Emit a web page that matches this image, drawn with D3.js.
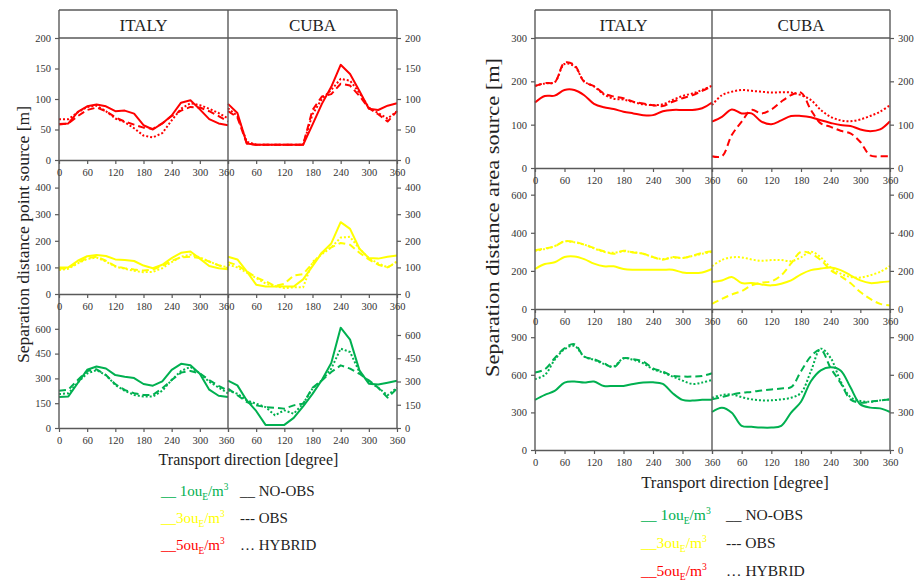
<!DOCTYPE html>
<html>
<head>
<meta charset="utf-8">
<script src="https://cdn.jsdelivr.net/npm/d3@7"></script>
<style>
  html, body { margin: 0; padding: 0; background: #fff; }
  svg { display: block; }
  svg text { font-family: "Liberation Serif", "Times New Roman", serif; }
</style>
</head>
<body>
<svg id="chart" width="918" height="580"></svg>
<script>
// Transport directions (degrees)
const angles = [0, 20, 40, 60, 80, 100, 120, 140, 160, 180, 200, 220, 240, 260, 280, 300, 320, 340, 360];
const xTicksItaly = [0, 60, 120, 180, 240, 300, 360];
const xTicksCuba = [0, 60, 120, 180, 240, 300, 360];

// Y tick labels
const ticksPoint5 = [0, 50, 100, 150, 200];
const ticksPoint3 = [0, 100, 200, 300, 400];
const ticksPoint1 = [0, 150, 300, 450, 600];
const ticksArea5 = [0, 100, 200, 300];
const ticksArea3 = [0, 200, 400, 600];
const ticksArea1 = [0, 300, 600, 900];

// Point source, 5 ouE/m3
const ptItaly5NoObs  = [59, 60, 79, 88, 91, 88, 80, 81, 76, 57, 50, 60, 73, 94, 98, 83, 67, 60, 57];
const ptItaly5Obs    = [58, 60, 72, 82, 86, 80, 70, 63, 58, 53, 51, 60, 72, 81, 87, 86, 80, 72, 63];
const ptItaly5Hybrid = [67, 67, 78, 87, 89, 80, 68, 62, 52, 40, 37, 44, 65, 84, 93, 90, 84, 77, 68];
const ptCuba5NoObs   = [92, 77, 27, 25, 25, 25, 25, 25, 25, 58, 92, 120, 156, 141, 113, 84, 82, 89, 93];
const ptCuba5Obs     = [80, 70, 27, 25, 25, 25, 25, 25, 25, 82, 104, 108, 125, 122, 105, 85, 75, 63, 80];
const ptCuba5Hybrid  = [85, 72, 30, 25, 25, 25, 25, 25, 25, 75, 100, 115, 133, 130, 110, 86, 77, 68, 80];

// Point source, 3 ouE/m3
const ptItaly3NoObs  = [100, 100, 125, 142, 147, 143, 130, 128, 124, 107, 97, 110, 135, 155, 160, 133, 105, 97, 93];
const ptItaly3Obs    = [95, 98, 118, 135, 140, 125, 105, 97, 92, 88, 92, 105, 125, 138, 140, 135, 122, 108, 97];
const ptItaly3Hybrid = [90, 95, 115, 132, 137, 122, 103, 95, 87, 82, 83, 97, 120, 140, 148, 138, 122, 108, 100];
const ptCuba3NoObs   = [140, 130, 85, 35, 28, 28, 28, 28, 55, 105, 155, 190, 270, 245, 170, 135, 133, 140, 145];
const ptCuba3Obs     = [120, 108, 85, 62, 48, 30, 38, 70, 75, 115, 155, 175, 192, 185, 155, 130, 110, 100, 120];
const ptCuba3Hybrid  = [110, 100, 80, 60, 40, 30, 22, 25, 25, 120, 150, 175, 212, 215, 170, 135, 115, 100, 122];

// Point source, 1 ouE/m3
const ptItaly1NoObs  = [187, 191, 272, 352, 372, 360, 320, 310, 302, 266, 256, 282, 352, 388, 380, 328, 232, 195, 187];
const ptItaly1Obs    = [225, 232, 290, 345, 355, 320, 265, 230, 210, 200, 200, 240, 290, 335, 345, 330, 290, 255, 225];
const ptItaly1Hybrid = [205, 210, 275, 330, 350, 320, 260, 225, 200, 190, 190, 225, 290, 345, 370, 330, 280, 245, 210];
const ptCuba1NoObs   = [305, 275, 178, 110, 20, 20, 20, 65, 140, 220, 310, 420, 647, 570, 372, 286, 280, 292, 305];
const ptCuba1Obs     = [254, 211, 168, 146, 135, 131, 125, 146, 157, 260, 307, 361, 404, 383, 350, 307, 260, 196, 254];
const ptCuba1Hybrid  = [243, 221, 178, 157, 135, 82, 114, 92, 157, 254, 307, 383, 512, 490, 361, 297, 260, 211, 260];

// Area source, 5 ouE/m3
const arItaly5NoObs  = [151, 166, 167, 180, 180, 168, 148, 140, 136, 130, 126, 122, 122, 131, 134, 134, 134, 138, 151];
const arItaly5Obs    = [189, 196, 198, 243, 238, 199, 189, 172, 165, 161, 153, 149, 145, 143, 153, 161, 168, 178, 189];
const arItaly5Hybrid = [190, 195, 198, 240, 235, 200, 188, 170, 160, 158, 152, 147, 145, 147, 157, 166, 172, 180, 190];
const arCuba5NoObs   = [107, 118, 135, 126, 126, 107, 101, 110, 120, 120, 117, 110, 104, 99, 97, 89, 85, 89, 108];
const arCuba5Obs     = [27, 27, 76, 107, 134, 126, 135, 153, 168, 174, 134, 103, 95, 86, 80, 60, 29, 27, 27];
const arCuba5Hybrid  = [145, 168, 176, 180, 178, 176, 174, 175, 174, 168, 157, 134, 118, 110, 108, 112, 120, 130, 145];

// Area source, 3 ouE/m3
const arItaly3NoObs  = [210, 236, 245, 273, 276, 262, 238, 224, 224, 210, 206, 206, 206, 206, 206, 192, 189, 192, 210];
const arItaly3Obs    = [308, 318, 329, 355, 352, 338, 320, 303, 290, 306, 297, 290, 273, 259, 273, 268, 280, 294, 303];
const arItaly3Hybrid = [305, 315, 330, 355, 350, 338, 318, 300, 295, 303, 298, 290, 272, 262, 270, 268, 278, 290, 300];
const arCuba3NoObs   = [142, 150, 168, 136, 136, 129, 124, 133, 150, 182, 204, 212, 218, 204, 177, 150, 136, 140, 145];
const arCuba3Obs     = [27, 53, 76, 94, 124, 138, 145, 177, 239, 300, 290, 257, 204, 172, 136, 89, 53, 27, 18];
const arCuba3Hybrid  = [225, 257, 271, 271, 260, 253, 257, 257, 251, 271, 301, 271, 218, 186, 168, 165, 177, 195, 225];

// Area source, 1 ouE/m3
const arItaly1NoObs  = [400, 440, 471, 538, 546, 538, 546, 511, 511, 511, 527, 538, 540, 527, 453, 400, 394, 400, 400];
const arItaly1Obs    = [618, 644, 732, 812, 844, 746, 724, 692, 660, 732, 724, 706, 652, 626, 591, 586, 586, 591, 612];
const arItaly1Hybrid = [565, 599, 719, 804, 831, 746, 719, 687, 666, 732, 719, 692, 644, 618, 586, 554, 527, 538, 559];
const arCuba1NoObs   = [303, 338, 298, 193, 185, 179, 179, 193, 298, 385, 549, 636, 660, 635, 500, 364, 338, 332, 303];
const arCuba1Obs     = [404, 422, 443, 456, 464, 475, 483, 491, 501, 628, 747, 800, 654, 536, 404, 377, 385, 396, 404];
const arCuba1Hybrid  = [417, 438, 443, 422, 404, 396, 396, 404, 417, 456, 628, 808, 734, 549, 422, 391, 385, 396, 404];

// Panel titles and legend texts
const panelNames = ["ITALY", "CUBA"];
const legendConc = ["1", "3", "5"];
const legendModels = ["__ NO-OBS", "--- OBS", "… HYBRID"];

const GREEN = "#00B050", YELLOW = "#FFFF00", RED = "#FF0000";
const AXIS = "#595959";
const DASHES = [null, "7,4", "2,2"];

const svg = d3.select("#chart");

const figures = [
  {
    x0: 59, xm: 228, x1: 397, top: 10, head: 38, italy360Dx: -2,
    yTitle: "Separation distance point source [m]", yTitleX: 29, yTitleY: 234.5, yTitleLen: 257, yTitleSize: 17.5,
    xTitleX: 248.5, xTitleY: 465, xTitleSize: 16,
    legX1: 161, legX2: 240, legY: [496, 523, 550], legSize: 15,
    curve: d3.curveLinear,
    rows: [
      { bottom: 160, top: 38, lmax: 200, rmax: 200, lt: ticksPoint5, rt: ticksPoint5, color: RED,
        italy: [ptItaly5NoObs, ptItaly5Obs, ptItaly5Hybrid], cuba: [ptCuba5NoObs, ptCuba5Obs, ptCuba5Hybrid] },
      { bottom: 294, top: 161, lmax: 500, rmax: 500, lt: ticksPoint3, rt: ticksPoint3, color: YELLOW,
        italy: [ptItaly3NoObs, ptItaly3Obs, ptItaly3Hybrid], cuba: [ptCuba3NoObs, ptCuba3Obs, ptCuba3Hybrid] },
      { bottom: 428, top: 304, lmax: 750, rmax: 800, lt: ticksPoint1, rt: ticksPoint1, color: GREEN,
        italy: [ptItaly1NoObs, ptItaly1Obs, ptItaly1Hybrid], cuba: [ptCuba1NoObs, ptCuba1Obs, ptCuba1Hybrid] }
    ]
  },
  {
    x0: 535, xm: 712, x1: 890, top: 10, head: 38, italy360Dx: 0,
    yTitle: "Separation distance area source [m]", yTitleX: 498.5, yTitleY: 217.5, yTitleLen: 319, yTitleSize: 18,
    xTitleX: 735, xTitleY: 488, xTitleSize: 16.7,
    legX1: 641, legX2: 726, legY: [520, 548, 576], legSize: 15.5,
    curve: d3.curveCatmullRom.alpha(0.5),
    rows: [
      { bottom: 168, top: 38, lmax: 300, rmax: 300, lt: ticksArea5, rt: ticksArea5, color: RED,
        italy: [arItaly5NoObs, arItaly5Obs, arItaly5Hybrid], cuba: [arCuba5NoObs, arCuba5Obs, arCuba5Hybrid] },
      { bottom: 309, top: 168, lmax: 740, rmax: 740, lt: ticksArea3, rt: ticksArea3, color: YELLOW,
        italy: [arItaly3NoObs, arItaly3Obs, arItaly3Hybrid], cuba: [arCuba3NoObs, arCuba3Obs, arCuba3Hybrid] },
      { bottom: 450, top: 309, lmax: 1125, rmax: 1125, lt: ticksArea1, rt: ticksArea1, color: GREEN,
        italy: [arItaly1NoObs, arItaly1Obs, arItaly1Hybrid], cuba: [arCuba1NoObs, arCuba1Obs, arCuba1Hybrid] }
    ]
  }
];

function styleAxis(sel) {
  sel.selectAll("line").attr("stroke", AXIS).attr("stroke-width", 1.2);
  sel.selectAll("path.domain").attr("stroke", AXIS).attr("stroke-width", 1.4);
  sel.selectAll("text").attr("fill", "#333").attr("font-size", "10.5px");
}

function drawFigure(f) {
  const g = svg.append("g");
  const last = f.rows[f.rows.length - 1].bottom;
  const xItaly = d3.scaleLinear().domain([0, 360]).range([f.x0, f.xm]);
  const xCuba = d3.scaleLinear().domain([0, 360]).range([f.xm, f.x1]);

  // Series lines, beneath the frame
  const lines = g.append("g");
  f.rows.forEach(r => {
    const yL = d3.scaleLinear().domain([0, r.lmax]).range([r.bottom, r.top]);
    const yR = d3.scaleLinear().domain([0, r.rmax]).range([r.bottom, r.top]);
    [[r.italy, xItaly, yL], [r.cuba, xCuba, yR]].forEach(([series, xs, ys]) => {
      series.forEach((vals, k) => {
        const line = d3.line().x((d, i) => xs(angles[i])).y(d => ys(d)).curve(f.curve);
        lines.append("path")
          .attr("d", line(vals))
          .attr("fill", "none")
          .attr("stroke", r.color)
          .attr("stroke-width", 2)
          .attr("stroke-linejoin", "round")
          .attr("stroke-dasharray", DASHES[k]);
      });
    });
  });

  // Frame: header box, outer verticals and the divider
  const frame = g.append("g").attr("stroke", AXIS).attr("stroke-width", 1.4);
  frame.append("line").attr("x1", f.x0).attr("x2", f.x1).attr("y1", f.top).attr("y2", f.top);
  frame.append("line").attr("x1", f.x0).attr("x2", f.x1).attr("y1", f.head).attr("y2", f.head);
  [f.x0, f.xm, f.x1].forEach(x => {
    frame.append("line").attr("x1", x).attr("x2", x).attr("y1", f.top).attr("y2", last);
  });

  // Panel headings
  [[panelNames[0], (f.x0 + f.xm) / 2], [panelNames[1], (f.xm + f.x1) / 2]].forEach(([t, cx]) => {
    g.append("text").attr("x", cx).attr("y", f.head - 7.5)
      .attr("text-anchor", "middle").attr("font-size", "17px").attr("fill", "#222").text(t);
  });

  // Axes for each row
  f.rows.forEach(r => {
    const yL = d3.scaleLinear().domain([0, r.lmax]).range([r.bottom, r.top]);
    const yR = d3.scaleLinear().domain([0, r.rmax]).range([r.bottom, r.top]);

    const al = g.append("g").attr("transform", `translate(${f.x0},0)`)
      .call(d3.axisLeft(yL).tickValues(r.lt).tickSize(4).tickPadding(4).tickSizeOuter(0));
    al.select(".domain").remove();
    styleAxis(al);

    const ar = g.append("g").attr("transform", `translate(${f.x1},0)`)
      .call(d3.axisRight(yR).tickValues(r.rt).tickSize(4).tickPadding(4).tickSizeOuter(0));
    ar.select(".domain").remove();
    styleAxis(ar);

    const bi = g.append("g").attr("transform", `translate(0,${r.bottom})`)
      .call(d3.axisBottom(xItaly).tickValues(xTicksItaly).tickSize(4).tickPadding(5).tickSizeOuter(0));
    styleAxis(bi);
    bi.selectAll(".tick").filter(d => d === 360).select("text").attr("x", f.italy360Dx);

    // The Cuba 0° label coincides with Italy's 360° label at the shared edge
    const bc = g.append("g").attr("transform", `translate(0,${r.bottom})`)
      .call(d3.axisBottom(xCuba).tickValues(xTicksCuba).tickSize(4).tickPadding(5).tickSizeOuter(0)
        .tickFormat(d => d === 0 ? "" : d));
    styleAxis(bc);
  });

  // Axis titles
  g.append("text")
    .attr("transform", `translate(${f.yTitleX},${f.yTitleY}) rotate(-90)`)
    .attr("text-anchor", "middle")
    .attr("font-size", f.yTitleSize + "px")
    .attr("textLength", f.yTitleLen)
    .attr("lengthAdjust", "spacingAndGlyphs")
    .attr("fill", "#222")
    .text(f.yTitle);

  g.append("text")
    .attr("x", f.xTitleX).attr("y", f.xTitleY)
    .attr("text-anchor", "middle")
    .attr("font-size", f.xTitleSize + "px")
    .attr("fill", "#222")
    .text("Transport direction [degree]");

  // Legend: concentration colours and model line styles
  const legColors = [GREEN, YELLOW, RED];
  legendConc.forEach((c, i) => {
    const t = g.append("text")
      .attr("x", f.legX1).attr("y", f.legY[i])
      .attr("font-size", f.legSize + "px")
      .attr("fill", legColors[i]);
    t.append("tspan").text(i === 0 ? "__ " + c + "ou" : "__" + c + "ou");
    t.append("tspan").attr("dy", 3.5).attr("font-size", (f.legSize * 0.62) + "px").text("E");
    t.append("tspan").attr("dy", -3.5).text("/m");
    t.append("tspan").attr("dy", -6).attr("font-size", (f.legSize * 0.62) + "px").text("3");

    g.append("text")
      .attr("x", f.legX2).attr("y", f.legY[i])
      .attr("font-size", f.legSize + "px")
      .attr("fill", "#222")
      .text(legendModels[i]);
  });
}

figures.forEach(drawFigure);
</script>
</body>
</html>
